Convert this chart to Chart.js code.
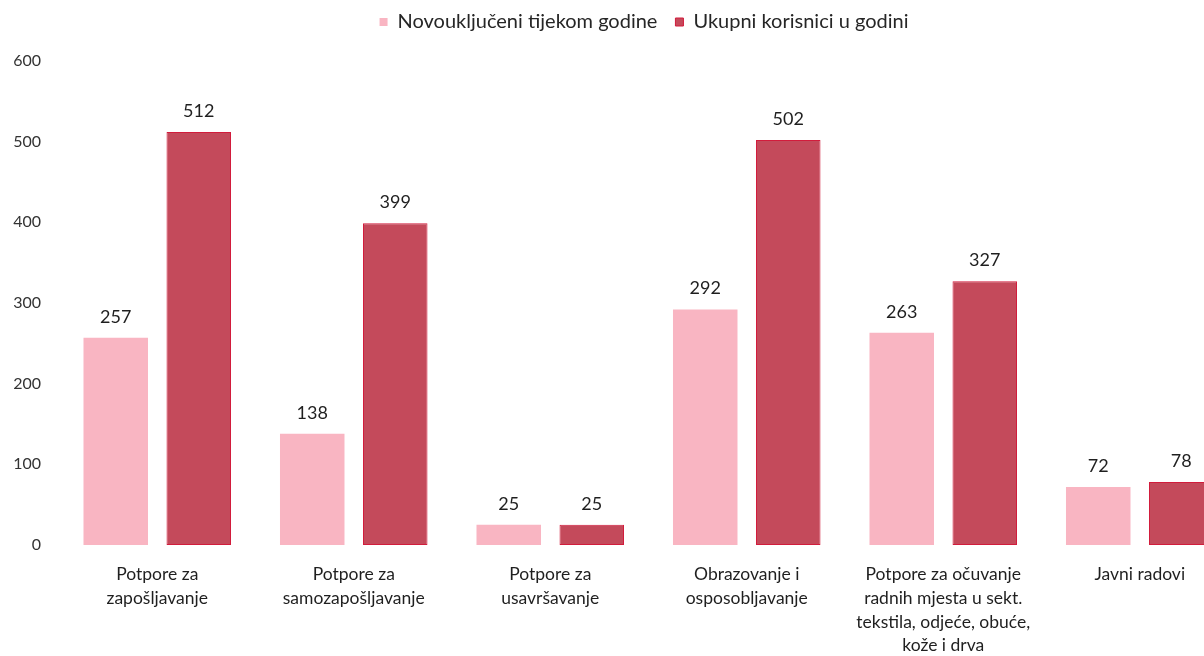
<!DOCTYPE html>
<html>
<head>
<meta charset="utf-8">
<script src="https://cdn.jsdelivr.net/npm/chart.js@4"></script>
<style>
  html, body { margin: 0; padding: 0; background: #fff; overflow: hidden; }
  #wrap { width: 1290px; height: 656px; }
</style>
</head>
<body>
<div id="wrap"><canvas id="chartOne" width="1290" height="656"></canvas></div>
<script>
const categories = [
    ['Potpore za', 'zapošljavanje'],
    ['Potpore za', 'samozapošljavanje'],
    ['Potpore za', 'usavršavanje'],
    ['Obrazovanje i', 'osposobljavanje'],
    ['Potpore za očuvanje', 'radnih mjesta u sekt.', 'tekstila, odjeće, obuće,', 'kože i drva'],
    ['Javni radovi']
];
const newUsers = [257, 138, 25, 292, 263, 72];
const totalUsers = [512, 399, 25, 502, 327, 78];
const yTicks = [0, 100, 200, 300, 400, 500, 600];

const FONT = 'Lato, "Open Sans", sans-serif';

// numbers above the bars
const valueLabels = {
    id: 'valueLabels',
    afterDatasetsDraw(chart){
        const ctx = chart.ctx;
        ctx.save();
        ctx.font = '18px ' + FONT;
        ctx.fillStyle = '#1f1f1f';
        ctx.textAlign = 'center';
        ctx.textBaseline = 'alphabetic';
        chart.data.datasets.forEach((ds, i) => {
            chart.getDatasetMeta(i).data.forEach((bar, j) => {
                ctx.fillText(ds.data[j], bar.x, bar.y - 15);
            });
        });
        ctx.restore();
    }
};

// keep the legend high up but leave room below it, centred over the plot
const legendSpace = {
    id: 'legendSpace',
    beforeUpdate(chart){
        const lg = chart.legend;
        if (lg && !lg._spaced){
            const fit = lg.fit;
            lg.fit = function(){
                fit.call(this);
                this.height = 67;
            };
            lg._spaced = true;
        }
    },
    afterLayout(chart){
        const lg = chart.legend;
        if (lg){
            lg.left += 25;
            lg.right += 25;
        }
    }
};

window.addEventListener('load', load);

function load(){
    const ctx = document.getElementById('chartOne');
    new Chart(ctx, {
        type: 'bar',
        data: {
            labels: categories,
            datasets: [{
                label: 'Novouključeni tijekom godine',
                data: newUsers,
                backgroundColor: '#F9B5C2',
                borderWidth: 0
            }, {
                label: 'Ukupni korisnici u godini',
                data: totalUsers,
                backgroundColor: '#C44A5B',
                borderColor: '#D21C3C',
                borderWidth: 1,
                borderSkipped: false
            }]
        },
        options: {
            responsive: false,
            animation: false,
            categoryPercentage: 0.845,
            barPercentage: 0.777,
            layout: {
                padding: { left: 0, right: 52, top: -6, bottom: 0 }
            },
            scales: {
                x: {
                    grid: { display: false },
                    border: { display: false },
                    ticks: {
                        color: '#1f1f1f',
                        font: { family: FONT, size: 17.5, lineHeight: 1.35 },
                        maxRotation: 0,
                        autoSkip: false,
                        padding: 10
                    },
                    afterFit(scale){ scale.height = 111; }
                },
                y: {
                    min: 0,
                    max: 600,
                    grid: { display: false },
                    border: { display: false },
                    afterBuildTicks(scale){ scale.ticks = yTicks.map(v => ({ value: v })); },
                    ticks: {
                        color: '#333',
                        font: { family: FONT, size: 16 },
                        padding: 10
                    },
                    afterFit(scale){ scale.width = 59; }
                }
            },
            plugins: {
                legend: {
                    display: true,
                    position: 'top',
                    labels: {
                        boxWidth: 8,
                        boxHeight: 8,
                        color: '#262626',
                        font: { family: FONT, size: 20 },
                        padding: 18
                    }
                },
                tooltip: { enabled: false }
            }
        },
        plugins: [valueLabels, legendSpace]
    });
}
</script>
</body>
</html>
